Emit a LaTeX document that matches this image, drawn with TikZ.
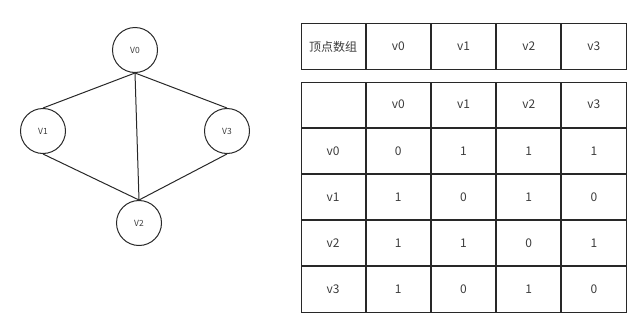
\documentclass[tikz,border=0pt]{standalone}
\usepackage{fontspec}
\setmainfont{Noto Sans CJK SC}
\usetikzlibrary{positioning}
\definecolor{traitgris}{RGB}{40,40,40}
\definecolor{textegris}{RGB}{60,60,60}

\begin{document}
\begin{tikzpicture}[x=1pt, y=-1pt,
    vertex/.style={circle, draw=traitgris, line width=1pt, minimum size=45pt, inner sep=0pt, text=textegris, font=\fontsize{8.5}{10}\selectfont},
    cell/.style={draw=traitgris, line width=1pt, minimum width=64.2pt, minimum height=45.2pt, inner sep=0pt, text=textegris, font=\fontsize{12}{14}\selectfont}]
    \useasboundingbox (0,0) rectangle (637,319);

    % Graphe
    \node[vertex] (v0) at (135,50) {V0};
    \node[vertex] (v1) at (43,131) {V1};
    \node[vertex] (v3) at (227,131) {V3};
    \node[vertex] (v2) at (139,223) {V2};

    \draw[traitgris, line width=1pt] (v0.south) -- (v1.north);
    \draw[traitgris, line width=1pt] (v0.south) -- (v3.north);
    \draw[traitgris, line width=1pt] (v0.south) -- (v2.north);
    \draw[traitgris, line width=1pt] (v1.south) -- (v2.north);
    \draw[traitgris, line width=1pt] (v3.south) -- (v2.north);

    % Tableau des sommets
    \node[cell] (t0) at (333.1,46.5) {顶点数组};
    \foreach \i [count=\k] in {0,...,3}
        \node[cell, right=0pt of t\i] (t\k) {v\i};

    % Matrice d'adjacence
    \node[cell] (m00) at (333.1,104.6) {};
    \foreach \i [count=\k] in {0,...,3}
        \node[cell, right=0pt of m0\i] (m0\k) {v\i};
    \foreach \r/\vals [count=\rr] in {0/{0,1,1,1}, 1/{1,0,1,0}, 2/{1,1,0,1}, 3/{1,0,1,0}} {
        \node[cell, below=0pt of m\r0] (m\rr0) {v\r};
        \foreach \v [count=\c, evaluate=\c as \cp using int(\c-1)] in \vals
            \node[cell, right=0pt of m\rr\cp] (m\rr\c) {\v};
    }
\end{tikzpicture}
\end{document}
